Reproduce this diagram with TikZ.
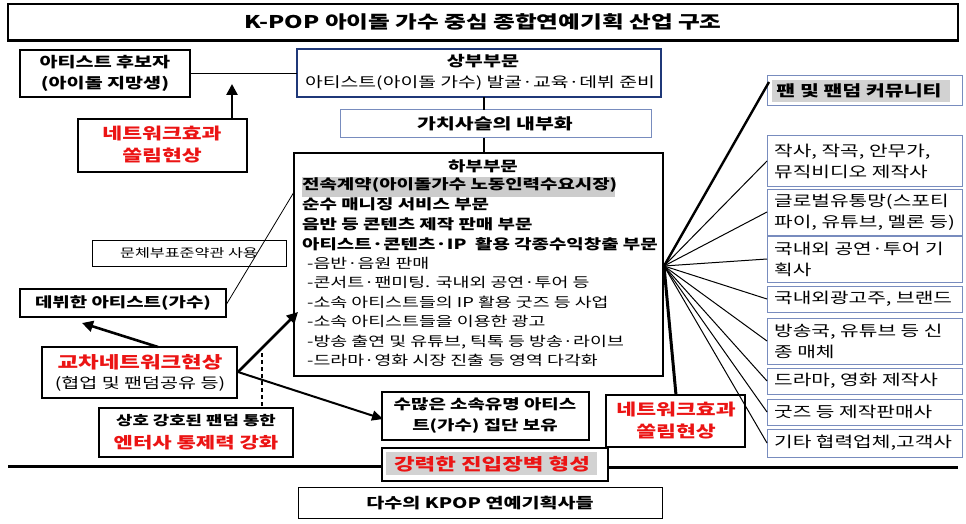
\documentclass[tikz,border=0pt]{standalone}
\usepackage{fontspec}
\setmainfont[FakeStretch=1.35]{Noto Sans CJK KR}
\usetikzlibrary{arrows.meta}
\definecolor{bblue}{RGB}{31,56,120}
\definecolor{lblue}{RGB}{120,140,190}
\definecolor{kred}{RGB}{235,20,20}
\newcommand{\fs}[1]{\fontsize{#1}{#1}\selectfont}
\begin{document}
\begin{tikzpicture}[x=1pt,y=-1pt,
 box/.style={draw,line width=1.2pt,inner sep=0pt},
 rbox/.style={draw=lblue,line width=1pt,inner sep=0pt},
 txt/.style={align=left,anchor=north west,inner sep=0pt},
 ctxt/.style={align=center,inner sep=0pt},
 big/.style={-{Triangle[length=11pt,width=11pt]},line width=2.6pt}]
\useasboundingbox (0,0) rectangle (966,524);
% title
\draw[line width=1.2pt] (8,4) rectangle (958,41);
\draw[line width=3pt] (8,41) -- (958,41);
\node[ctxt,font=\fontsize{17.5}{20}\selectfont\bfseries] (title) at (483,22) {K-POP 아이돌 가수 중심 종합연예기획 산업 구조};
% upper
\draw[box] (20,50) rectangle (190,97);
\node[ctxt,font=\fontsize{14.5}{21}\selectfont\bfseries] (cand) at (105,73) {아티스트 후보자\\(아이돌 지망생)};
\draw[draw=bblue,line width=1.5pt] (297,49) rectangle (661,97);
\node[ctxt,font=\fontsize{14.5}{17}\selectfont\bfseries] (up1) at (483,61) {상부부문};
\node[ctxt,font=\fontsize{14.3}{17}\selectfont] (up2) at (480,83) {아티스트(아이돌 가수) 발굴·교육·데뷔 준비};
\coordinate (upL) at (297,73); \coordinate (candR) at (190,73);
\draw[line width=0.8pt] (candR) -- (upL);
\draw[rbox] (340,110) rectangle (651,138);
\node[ctxt,font=\fontsize{15.2}{18}\selectfont\bfseries] (vc) at (495,124) {가치사슬의 내부화};
\coordinate (a1) at (484,97); \coordinate (a2) at (484,110);
\coordinate (a3) at (484,138); \coordinate (a4) at (484,153);
\draw[line width=1.5pt] (a1)--(a2) (a3)--(a4);
% lower
\draw[box] (294,153) rectangle (663,376);
\node[ctxt,font=\fontsize{14}{17}\selectfont\bfseries] (low) at (483,166) {하부부문};
\fill[gray!40] (302,177) rectangle (615,197);
\node[txt,font=\fontsize{14}{20}\selectfont\bfseries] (lowb) at (302,177) {전속계약(아이돌가수 노동인력수요시장)\\순수 매니징 서비스 부문\\음반 등 콘텐츠 제작 판매 부문\\아티스트·콘텐츠·IP\ \ 활용 각종수익창출 부문};
\node[txt,font=\fontsize{13.6}{19.5}\selectfont] (lowl) at (307,257) {-음반·음원 판매\\-콘서트·팬미팅. 국내외 공연·투어 등\\-소속 아티스트들의 IP 활용 굿즈 등 사업\\-소속 아티스트들을 이용한 광고\\-방송 출연 및 유튜브, 틱톡 등 방송·라이브\\-드라마·영화 시장 진출 등 영역 다각화};
% left
\draw[box] (78,119) rectangle (247,172);
\node[ctxt,font=\fontsize{16}{22}\selectfont\bfseries,text=kred] (ne1) at (162,145) {네트워크효과\\쏠림현상};
\coordinate (ne1t) at (232,119); \coordinate (candB) at (232,84);
\draw[big] (ne1t) -- (candB);
\draw[line width=1pt] (92,240) rectangle (286,266);
\node[ctxt,font=\fontsize{12}{14}\selectfont] (mc) at (189,253) {문체부표준약관 사용};
\draw[box] (20,289) rectangle (226,317);
\node[ctxt,font=\fontsize{14}{17}\selectfont\bfseries] (deb) at (123,303) {데뷔한 아티스트(가수)};
\coordinate (debR) at (226,305); \coordinate (lowL) at (294,192);
\draw[line width=0.8pt] (debR) -- (lowL);
\draw[box] (42,347) rectangle (237,398);
\node[ctxt,font=\fontsize{16.6}{20}\selectfont\bfseries,text=kred] (cr1) at (140,362) {교차네트워크현상};
\node[ctxt,font=\fontsize{14.5}{17}\selectfont] (cr2) at (140,384) {(협업 및 팬덤공유 등)};
\coordinate (crT) at (158,347); \coordinate (debB) at (82,323);
\coordinate (crR) at (238,372); \coordinate (lowA) at (298,312);
\draw[big] (crT) -- (debB);
\draw[big] (crR) -- (lowA);
\draw[-{Triangle[length=11pt,width=10pt]},line width=2pt] (crR) -- (383,419);
\coordinate (d1) at (262,353); \coordinate (d2) at (262,407);
\draw[line width=1.2pt,dash pattern=on 4pt off 3pt] (d1) -- (d2);
\draw[box] (99,408) rectangle (293,457);
\node[ctxt,font=\fontsize{13.2}{16}\selectfont\bfseries] (mu1) at (196,421) {상호 강호된 팬덤 통한};
\node[ctxt,font=\fontsize{15.6}{19}\selectfont\bfseries,text=kred] (mu2) at (196,443) {엔터사 통제력 강화};
% bottom middle
\draw[box] (382,392) rectangle (589,440);
\node[ctxt,font=\fontsize{14}{21}\selectfont\bfseries] (many) at (485,416) {수많은 소속유명 아티스\\트(가수) 집단 보유};
\draw[line width=3pt] (8,466) -- (382,466) (608,467) -- (958,467);
\draw[line width=2.4pt] (382,448) rectangle (608,481);
\fill[gray!35] (386,452) rectangle (597,475);
\node[ctxt,font=\fontsize{16.6}{19}\selectfont\bfseries,text=kred] (bar) at (492,464) {강력한 진입장벽 형성};
\draw[box] (606,395) rectangle (745,447);
\node[ctxt,font=\fontsize{16}{22}\selectfont\bfseries,text=kred] (ne2) at (676,421) {네트워크효과\\쏠림현상};
\draw[line width=1pt] (298,487) rectangle (662,518);
\node[ctxt,font=\fontsize{14.5}{18}\selectfont\bfseries] (bot) at (480,503) {다수의 KPOP 연예기획사들};
% right side
\coordinate (hub) at (664,266);
\draw[rbox] (767,76) rectangle (962,106);
\fill[gray!35] (772,80) rectangle (950,102);
\node[ctxt,font=\fontsize{15.2}{18}\selectfont\bfseries] (r0) at (859,91) {팬 및 팬덤 커뮤니티};
\draw[line width=2.4pt] (hub) -- (769,82);
\draw[line width=3pt] (hub) -- (676,395);
\foreach \n/\ya/\yb/\t in {r1/136/186/{작사, 작곡, 안무가,\\뮤직비디오 제작사},
 r2/189/235/{글로벌유통망(스포티\\파이, 유튜브, 멜론 등)},
 r3/236/282/{국내외 공연·투어 기\\획사},
 r4/286/312/{국내외광고주, 브랜드},
 r5/318/364/{방송국, 유튜브 등 신\\종 매체},
 r6/368/394/{드라마, 영화 제작사},
 r7/399/425/{굿즈 등 제작판매사},
 r8/429/457/{기타 협력업체,고객사}}{
 \draw[rbox] (767,\ya) rectangle (962,\yb);
 \node[txt,font=\fontsize{15}{21}\selectfont,anchor=west] (\n) at (774,{(\ya+\yb)/2}) {\t};
 \coordinate (\n L) at (767,{(\ya+\yb)/2});
 \draw[line width=1pt] (hub) -- (\n L);
}
\end{tikzpicture}
\end{document}
